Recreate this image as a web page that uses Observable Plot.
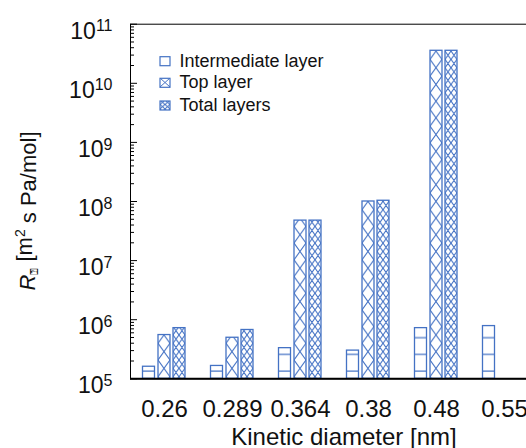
<!DOCTYPE html>
<html><head><meta charset="utf-8">
<script src="https://cdn.jsdelivr.net/npm/d3@7"></script>
<script src="https://cdn.jsdelivr.net/npm/@observablehq/plot@0.6"></script>
<style>
html,body{margin:0;padding:0;background:#fff;overflow:hidden}
#wrap{position:relative;width:526px;height:448px;overflow:hidden;font-family:Arial,"Liberation Sans",sans-serif}
#wrap svg{overflow:hidden;max-width:none!important}
</style></head><body>
<svg width="0" height="0" style="position:absolute">
  <defs>
    <pattern id="patInt" patternUnits="userSpaceOnUse" x="0" y="370" width="68" height="16.7">
      <line x1="0" x2="68" y1="1" y2="1" stroke="#4472C4" stroke-width="1.2"/>
    </pattern>
    <pattern id="patTop" patternUnits="userSpaceOnUse" x="158" y="360" width="68" height="16.7">
      <path d="M0,0L12,16.7M12,0L0,16.7" stroke="#4472C4" stroke-width="1.1" fill="none"/>
    </pattern>
    <pattern id="patTot" patternUnits="userSpaceOnUse" x="173" y="360" width="68" height="8.35">
      <path d="M0,0L6,8.35M6,0L0,8.35M6,0L12,8.35M12,0L6,8.35" stroke="#4472C4" stroke-width="1.1" fill="none"/>
    </pattern>
    <pattern id="lgTop" patternUnits="userSpaceOnUse" x="160" y="78" width="10" height="9">
      <path d="M0,0L10,9M10,0L0,9" stroke="#4472C4" stroke-width="1" fill="none"/>
    </pattern>
    <pattern id="lgTot" patternUnits="userSpaceOnUse" x="160" y="100" width="5" height="4.5">
      <path d="M0,0L5,4.5M5,0L0,4.5" stroke="#4472C4" stroke-width="1" fill="none"/>
    </pattern>
  </defs>
</svg>
<div id="wrap"></div>
<script>
const diameters = ["0.26", "0.289", "0.364", "0.38", "0.48", "0.55"];
const seriesNames = ["Intermediate layer", "Top layer", "Total layers"];
const intermediate = [1.6e5, 1.65e5, 3.3e5, 3.0e5, 7.2e5, 7.8e5];
const topLayer = [5.5e5, 4.95e5, 4.75e7, 1.0e8, 3.55e10, null];
const totalLayers = [7.2e5, 6.7e5, 4.75e7, 1.03e8, 3.55e10, null];
const yTicks = [1e5, 1e6, 1e7, 1e8, 1e9, 1e10, 1e11];
const yTickLabels = ["10^5", "10^6", "10^7", "10^8", "10^9", "10^10", "10^11"];
const minorTicks = [];
for (let k = 5; k < 11; k++) for (let m = 2; m <= 9; m++) minorTicks.push(m * Math.pow(10, k));

const blue = "#4472C4";
const ink = "#111";
const base = 1e5;
const W = 546, ML = 130, MR = 8;
const PW = W - ML - MR;
const rows = (vals) => diameters.map((d, i) => ({d, v: vals[i]})).filter(r => r.v != null);

const plot = Plot.plot({
  width: W, height: 448,
  marginLeft: ML, marginRight: MR, marginTop: 23.7, marginBottom: 69.7,
  style: {fontFamily: "Arial, 'Liberation Sans', sans-serif", color: ink, background: "#fff", maxWidth: "none"},
  x: {type: "band", domain: diameters, padding: 0},
  y: {type: "log", domain: [1e5, 1e11]},
  marks: [
    Plot.barY(rows(intermediate), {x: "d", y1: () => base, y2: "v", fill: "url(#patInt)", stroke: blue, strokeWidth: 1.3, insetLeft: 12.5, insetRight: 43.5}),
    Plot.barY(rows(topLayer), {x: "d", y1: () => base, y2: "v", fill: "url(#patTop)", stroke: blue, strokeWidth: 1.3, insetLeft: 28, insetRight: 28}),
    Plot.barY(rows(totalLayers), {x: "d", y1: () => base, y2: "v", fill: "url(#patTot)", stroke: blue, strokeWidth: 1.3, insetLeft: 43, insetRight: 13}),
    Plot.ruleY(minorTicks, {stroke: "#000", strokeWidth: 1, insetRight: PW - 4}),
    Plot.ruleY(yTicks, {stroke: "#000", strokeWidth: 1, insetRight: PW - 7}),
    Plot.axisY(yTicks, {tickSize: 0, tickPadding: 18, dy: 7, fontSize: 23, tickFormat: d => yTickLabels[yTicks.indexOf(d)], label: null}),
    Plot.axisX({tickSize: 0, tickPadding: 21, fontSize: 24, label: null}),
    Plot.frame({stroke: "#000", strokeWidth: 1}),
    Plot.ruleY([1e5], {stroke: "#000", strokeWidth: 2})
  ]
});

document.getElementById("wrap").appendChild(plot);
const svg = d3.select(plot);

// superscript tick labels
svg.selectAll('g[aria-label="y-axis tick label"] text').each(function () {
  const t = d3.select(this);
  const s = t.text();
  if (!s.includes("^")) return;
  const [b, e] = s.split("^");
  t.text(null);
  t.append("tspan").text(b);
  t.append("tspan").attr("dy", "-0.45em").attr("font-size", "16px").text(e);
});

// axis titles
svg.append("text")
  .attr("transform", "translate(35,211) rotate(-90)")
  .attr("text-anchor", "middle")
  .attr("font-size", 22)
  .attr("fill", ink)
  .call(t => {
    t.append("tspan").attr("font-style", "italic").text("R");
    t.append("tspan").attr("font-size", "11px").attr("dy", "0.3em").text("⍰");
    t.append("tspan").attr("dy", "-0.3em").text(" [m");
    t.append("tspan").attr("font-size", "14px").attr("dy", "-0.5em").text("2");
    t.append("tspan").attr("dy", "0.5em").text(" s Pa/mol]");
  });

svg.append("text")
  .attr("x", 344).attr("y", 445)
  .attr("text-anchor", "middle")
  .attr("font-size", 24)
  .attr("fill", ink)
  .text("Kinetic diameter [nm]");

// legend
const lg = svg.append("g").attr("aria-label", "legend");
const lgFills = ["#fff", "url(#lgTop)", "url(#lgTot)"];
const lgBase = [66.7, 88.3, 111];
seriesNames.forEach((name, i) => {
  lg.append("rect").attr("x", 160).attr("y", lgBase[i] - 10).attr("width", 10).attr("height", 9)
    .attr("fill", lgFills[i]).attr("stroke", blue).attr("stroke-width", 1.2);
  lg.append("text").attr("x", 179.5).attr("y", lgBase[i]).attr("text-anchor", "start")
    .attr("font-size", 18).attr("fill", ink).text(name);
});
</script>
</body></html>
